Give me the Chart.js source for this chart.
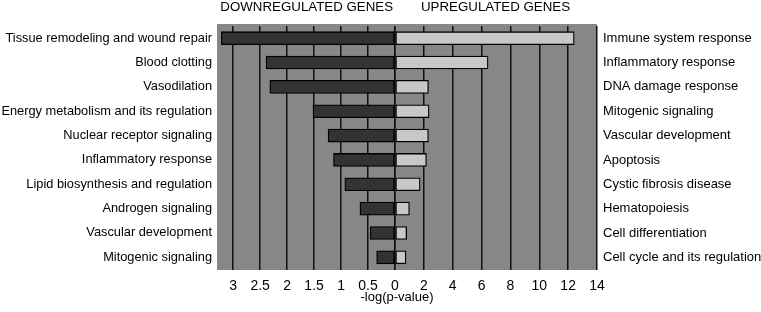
<!DOCTYPE html>
<html>
<head>
<meta charset="utf-8">
<script src="https://cdn.jsdelivr.net/npm/chart.js@4.4.0/dist/chart.umd.min.js"></script>
<style>
  html, body { margin: 0; padding: 0; background: #fff; }
  #wrap { width: 761px; height: 312px; }
</style>
</head>
<body>
<div id="wrap"><canvas id="grafico"></canvas></div>
<script>
// lado esquerdo: genes com regulação negativa
var down_labels = [
    'Tissue remodeling and wound repair',
    'Blood clotting',
    'Vasodilation',
    'Energy metabolism and its regulation',
    'Nuclear receptor signaling',
    'Inflammatory response',
    'Lipid biosynthesis and regulation',
    'Androgen signaling',
    'Vascular development',
    'Mitogenic signaling'
]
var down_values = [3.22, 2.39, 2.32, 1.52, 1.24, 1.14, 0.93, 0.65, 0.46, 0.34]

// lado direito: genes com regulação positiva
var up_labels = [
    'Immune system response',
    'Inflammatory response',
    'DNA damage response',
    'Mitogenic signaling',
    'Vascular development',
    'Apoptosis',
    'Cystic fibrosis disease',
    'Hematopoiesis',
    'Cell differentiation',
    'Cell cycle and its regulation'
]
var up_values = [12.42, 6.45, 2.32, 2.36, 2.32, 2.18, 1.74, 1.0, 0.81, 0.76]

// marcas do eixo x
var down_ticks = [0, 0.5, 1, 1.5, 2, 2.5, 3]
var up_ticks = [0, 2, 4, 6, 8, 10, 12, 14]

var fonte = '"Liberation Sans", Arial, sans-serif'

// fundo cinza + textos extras (cabeçalhos e título do eixo)
const extras = {
    id: 'extras',
    beforeDraw(chart) {
        const ctx = chart.ctx
        const area = chart.chartArea
        ctx.save()
        ctx.fillStyle = '#878787'
        ctx.fillRect(area.left, 24, area.right - area.left, 246)
        ctx.restore()
    },
    afterDraw(chart) {
        const ctx = chart.ctx
        const zero = chart.scales.xR.getPixelForValue(0)
        ctx.save()
        ctx.fillStyle = '#000'
        ctx.textBaseline = 'middle'
        ctx.font = '13.3px ' + fonte
        ctx.textAlign = 'right'
        ctx.fillText('DOWNREGULATED GENES', zero - 2, 7)
        ctx.textAlign = 'left'
        ctx.fillText('UPREGULATED GENES', zero + 26, 7)
        ctx.font = '13px ' + fonte
        ctx.textAlign = 'center'
        ctx.fillText('-log(p-value)', zero + 2, 297)
        ctx.restore()
    }
}

const grade = { color: '#111', lineWidth: 1.5, drawTicks: false }

const ctxBarra = document.getElementById('grafico').getContext('2d')
const grafico = new Chart(ctxBarra, {
    type: 'bar',
    data: {
        datasets: [{
            data: down_values,
            xAxisID: 'xL',
            yAxisID: 'yL',
            backgroundColor: '#333333',
            borderColor: '#000',
            borderWidth: 1.3,
            borderSkipped: false,
            barThickness: 13,
            grouped: false
        }, {
            data: up_values,
            xAxisID: 'xR',
            yAxisID: 'yR',
            backgroundColor: '#c8c8c8',
            borderColor: '#000',
            borderWidth: 1.3,
            borderSkipped: false,
            barThickness: 13,
            grouped: false
        }]
    },
    options: {
        indexAxis: 'y',
        responsive: true,
        maintainAspectRatio: false,
        animation: false,
        layout: { padding: { top: 26, left: 0, right: 0, bottom: 0 } },
        plugins: {
            legend: { display: false },
            tooltip: { enabled: false }
        },
        scales: {
            xL: {
                type: 'linear',
                position: 'bottom',
                stack: 'eixo',
                stackWeight: 178,
                reverse: true,
                min: 0,
                max: 3.3,
                grid: grade,
                border: { display: false },
                afterBuildTicks: (s) => { s.ticks = down_ticks.map((v) => ({ value: v })) },
                afterFit: (s) => { s.height = 42.5 },
                ticks: {
                    color: '#000',
                    font: { size: 14, family: fonte },
                    padding: 8,
                    maxRotation: 0,
                    autoSkip: false,
                    callback: (v) => String(v)
                }
            },
            xR: {
                type: 'linear',
                position: 'bottom',
                stack: 'eixo',
                stackWeight: 202,
                min: 0,
                max: 14,
                grid: grade,
                border: { display: false },
                afterBuildTicks: (s) => { s.ticks = up_ticks.map((v) => ({ value: v })) },
                afterFit: (s) => { s.height = 42.5 },
                ticks: {
                    color: '#000',
                    font: { size: 14, family: fonte },
                    padding: 8,
                    maxRotation: 0,
                    autoSkip: false,
                    callback: (v) => v === 0 ? '' : String(v)
                }
            },
            yL: {
                type: 'category',
                position: 'left',
                labels: down_labels,
                grid: { display: false, drawTicks: false },
                border: { display: false },
                afterFit: (s) => { s.width = 217 },
                ticks: { color: '#000', font: { size: 12.8, family: fonte }, padding: 5 }
            },
            yR: {
                type: 'category',
                position: 'right',
                labels: up_labels,
                grid: { display: false, drawTicks: false },
                border: { display: false },
                afterFit: (s) => { s.width = 164 },
                ticks: { color: '#000', font: { size: 13, family: fonte }, padding: 6 }
            }
        }
    },
    plugins: [extras]
})
</script>
</body>
</html>
